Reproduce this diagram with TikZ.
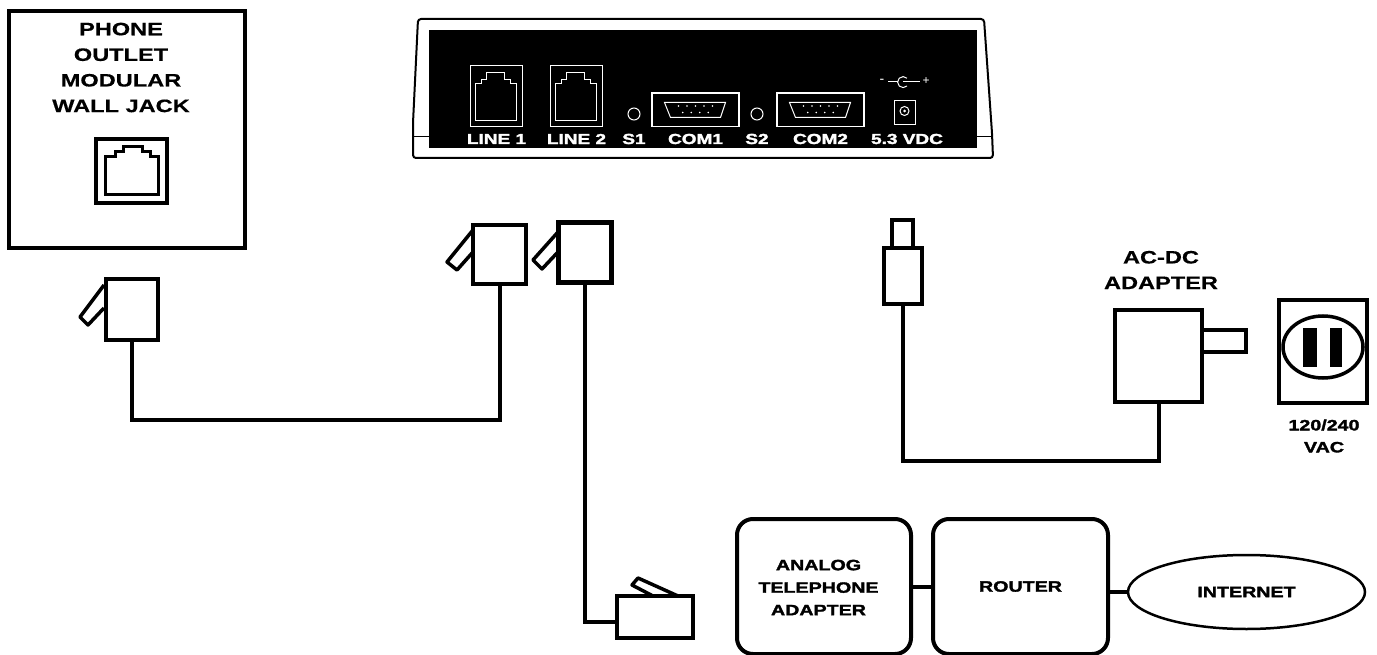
\documentclass[tikz,border=0pt]{standalone}
\usepackage{fontspec}
\setmainfont{Liberation Sans}
\newfontfamily\widefont[FakeStretch=1.31,FakeBold=0.5]{Liberation Sans}
\newfontfamily\heavyfont[FakeStretch=1.31,FakeBold=2]{Liberation Sans}
\usetikzlibrary{calc,shapes.geometric}
\tikzset{
  wireline/.style={line width=4pt, line join=miter},
  plugbox/.style={draw, fill=white, line width=4pt, outer sep=0pt, inner sep=0pt},
  latchtab/.style={draw, fill=white, line width=3.5pt, line join=round},
  darkline/.style={draw, line width=3.5pt, outer sep=0pt, inner sep=0pt},
  netbox/.style={draw, line width=4pt, rounded corners=16pt, outer sep=0pt, inner sep=0pt, minimum width=174pt, minimum height=135pt},
  netlabel/.style={inner sep=0pt, align=center, font=\heavyfont\fontsize{15}{22.5}\selectfont\bfseries},
  darklabel/.style={inner sep=0pt, align=center, font=\widefont\fontsize{18}{25.6}\selectfont\bfseries},
  panellabel/.style={text=white, inner sep=0pt, font=\heavyfont\fontsize{14.5}{16}\selectfont\bfseries},
  panelline/.style={draw=white, line width=1pt},
}
\begin{document}
\begin{tikzpicture}[x=1pt,y=-1pt]
  \useasboundingbox (0,0) rectangle (1377,655);

  \node[darkline, line width=4.5pt, minimum width=236pt, minimum height=237pt] (wallbox) at (127,129.5) {};
  \node[darklabel] (walllabel) at (121,67.5) {PHONE\\OUTLET\\MODULAR\\WALL JACK};
  \node[darkline, minimum width=71pt, minimum height=64pt] (walljack) at (131.5,171) {};
  \draw[line width=3pt] (105,195) -- (105,157) -- (115,157) -- (115,152) -- (123,152) -- (123,147)
    -- (142,147) -- (142,152) -- (150,152) -- (150,157) -- (158,157) -- (158,195) -- cycle;

  \draw[line width=2pt, rounded corners=3pt] (424,19) -- (984,19) -- (992,133) -- (993,158) -- (413,158) -- (413,123) -- (418,19) -- cycle;
  \node[fill=black, outer sep=0pt, inner sep=0pt, minimum width=548pt, minimum height=118pt] (panel) at (703,89) {};
  \draw[line width=1pt] (413,137) -- (panel.west |- 0,137);
  \draw[line width=1pt] (panel.east |- 0,137) -- (993,137);

  \foreach \xj/\txt in {470/LINE 1, 550/LINE 2} {
    \draw[panelline] (\xj,66) rectangle (\xj+52,127);
    \draw[panelline, shift={(\xj,0)}] (5.3,121) -- (5.3,84) -- (11.3,84) -- (11.3,79.3) -- (16.3,79.3) -- (16.3,72.7)
      -- (34,72.7) -- (34,79.3) -- (40,79.3) -- (40,84) -- (46,84) -- (46,121) -- cycle;
    \node[panellabel] at (\xj+26.5,139) {\txt};
  }
  \foreach \xc/\txt in {634/S1, 757/S2} {
    \draw[panelline] (\xc,114) circle (6);
    \node[panellabel] at (\xc,139) {\txt};
  }
  \foreach \xc/\txt in {695.5/COM1, 820.5/COM2} {
    \draw[panelline, line width=1.3pt] (\xc-43.5,93) rectangle (\xc+43.5,126.5);
    \draw[panelline] (\xc-31,102.5) -- (\xc+30,102.5) -- (\xc+25,117.5) -- (\xc-25,117.5) -- cycle;
    \foreach \dx in {-17,-8.5,0,8.5,17}
      \fill[white] (\xc+\dx,106) circle (0.8);
    \foreach \dx in {-12.75,-4.25,4.25,12.75}
      \fill[white] (\xc+\dx,112.5) circle (0.8);
    \node[panellabel] at (\xc,139) {\txt};
  }
  \draw[panelline] (894,101) rectangle (915,125);
  \draw[panelline] (904.5,111) circle (4.5);
  \fill[white] (904.5,111) circle (1.5);
  \node[panellabel] at (907,139) {5.3 VDC};
  \node[text=white, inner sep=0pt, font=\fontsize{14}{14}\selectfont] at (882,81) {-};
  \node[text=white, inner sep=0pt, font=\fontsize{12}{12}\selectfont] at (926,81.5) {+};
  \draw[panelline] (888,82) -- (897.5,82);
  \draw[panelline] (903,82) -- (920,82);
  \draw[panelline] (907,86) arc[start angle=45, end angle=315, radius=5.5];

  \draw[latchtab] (104,285) -- (80,317) -- (88,325) -- (104,308);
  \node[plugbox, minimum width=52pt, minimum height=61pt] (wallplug) at (132,309.5) {};
  \draw[latchtab] (473,230) -- (447,262) -- (457,270) -- (473,252);
  \node[plugbox, minimum width=53pt, minimum height=59pt] (lineplug) at (499.5,254.5) {};
  \draw[latchtab] (558,232) -- (533,260) -- (542,269) -- (558,252);
  \node[plugbox, line width=5pt, minimum width=53pt, minimum height=60pt] (outplug) at (584.5,253) {};
  \draw[latchtab] (653,596) -- (632,585) -- (638,578) -- (678,596);
  \node[plugbox, minimum width=76pt, minimum height=42pt] (ataplug) at (655,617) {};

  \draw[wireline] (wallplug.south) -- ++(0,80) -| (lineplug.south);
  \draw[wireline] (outplug.south) |- ($(ataplug.west)+(0,5)$);

  \node[plugbox, minimum width=21pt, minimum height=30pt] (dctip) at (902.5,235) {};
  \node[plugbox, minimum width=38pt, minimum height=56pt] (dcplug) at (903,276) {};
  \node[plugbox, minimum width=44pt, minimum height=22pt] (acprong) at (1224,341) {};
  \node[plugbox, minimum width=87pt, minimum height=92pt] (acdc) at (1158.5,356) {};
  \node[darklabel] (acdclabel) at (1161,270) {AC-DC\\ADAPTER};
  \draw[wireline] (dcplug.south) -- ++(0,157) -| (acdc.south);

  \node[plugbox, line width=3.5pt, minimum width=88pt, minimum height=103pt] (outlet) at (1323,351.5) {};
  \node[draw, ellipse, line width=3.5pt, inner sep=0pt, minimum width=80pt, minimum height=62pt] (outletface) at (1323,347) {};
  \fill (1303,328) rectangle (1317,367);
  \fill (1330,328) rectangle (1342,367);
  \node[netlabel, font=\heavyfont\fontsize{15}{22}\selectfont\bfseries] (vaclabel) at (1324,436) {120/240\\VAC};

  \node[netbox] (ata) at (824,586.5) {};
  \node[netlabel] (atalabel) at (818.5,587.5) {ANALOG\\TELEPHONE\\ADAPTER};
  \node[netbox, minimum width=175pt, netlabel, inner sep=0pt] (router) at (1020.5,586.5) {ROUTER};
  \node[draw, ellipse, line width=2.5pt, outer sep=0pt, inner sep=0pt, minimum width=237pt, minimum height=74pt, netlabel] (internet) at (1246.5,592) {INTERNET};
  \draw[wireline] (ata.east) -- (router.west);
  \draw[wireline] (internet.west) -- (internet.west -| router.east);
\end{tikzpicture}
\end{document}
